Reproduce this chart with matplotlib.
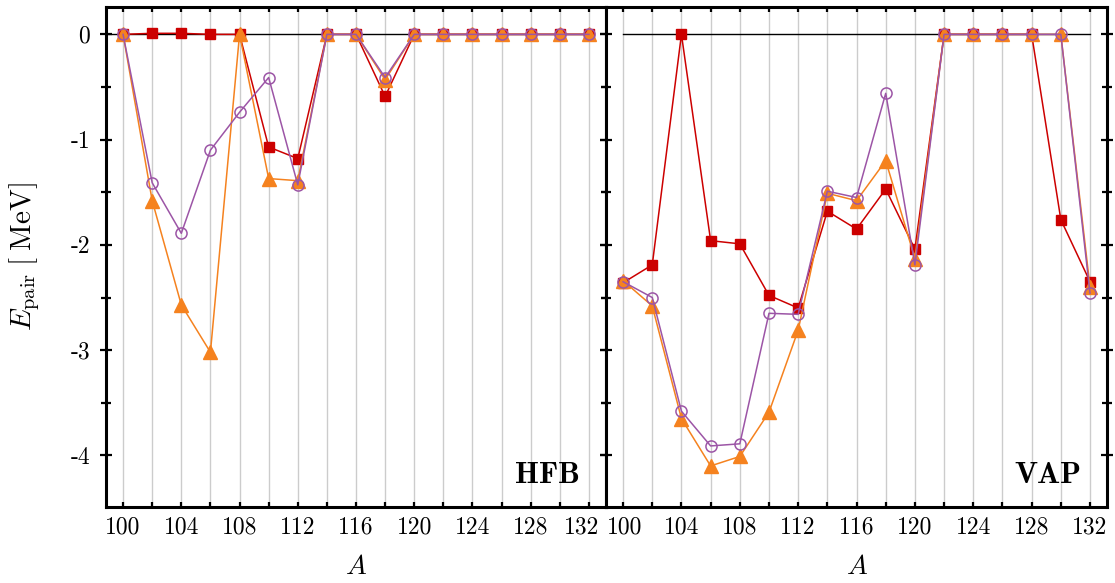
import matplotlib
matplotlib.use("Agg")
import matplotlib.pyplot as plt
import matplotlib.transforms as mtransforms
from matplotlib.ticker import MultipleLocator, FixedLocator, FuncFormatter

plt.rcParams["font.family"] = ["cmr10", "DejaVu Serif"]
plt.rcParams["mathtext.fontset"] = "cm"
plt.rcParams["axes.unicode_minus"] = False

# Mass numbers
A = [100, 102, 104, 106, 108, 110, 112, 114, 116, 118, 120, 122, 124, 126, 128, 130, 132]

# Pairing energies [MeV], HFB
hfb_red = [0, 0.01, 0.01, 0.0, 0, -1.07, -1.18, 0, 0, -0.59, 0, 0, 0, 0, 0, 0, 0]
hfb_orange = [0, -1.58, -2.57, -3.02, 0, -1.37, -1.39, 0, 0, -0.43, 0, 0, 0, 0, 0, 0, 0]
hfb_purple = [0, -1.41, -1.89, -1.10, -0.74, -0.41, -1.43, 0, 0, -0.41, 0, 0, 0, 0, 0, 0, 0]

# Pairing energies [MeV], VAP
vap_red = [-2.36, -2.19, 0, -1.96, -1.99, -2.48, -2.60, -1.68, -1.85, -1.47, -2.04,
           0, 0, 0, 0, -1.76, -2.35]
vap_orange = [-2.34, -2.58, -3.65, -4.10, -4.01, -3.59, -2.81, -1.51, -1.58, -1.20, -2.13,
              0, 0, 0, 0, 0, -2.40]
vap_purple = [-2.35, -2.50, -3.58, -3.91, -3.89, -2.65, -2.66, -1.49, -1.55, -0.56, -2.19,
              0, 0, 0, 0, 0, -2.46]

panel_names = ["HFB", "VAP"]
xtick_labels = [100, 104, 108, 112, 116, 120, 124, 128, 132]

RED = "#cc0000"
ORANGE = "#f5821f"
PURPLE = "#9c55a6"

fig = plt.figure(figsize=(11.15, 5.83), dpi=100)
bottom, height = 0.1304, 0.8576
ax1 = fig.add_axes([0.0951, bottom, 0.4484, height])
ax2 = fig.add_axes([0.5435, bottom, 0.4494, height])

datasets = [(hfb_red, hfb_orange, hfb_purple), (vap_red, vap_orange, vap_purple)]

for i, (ax, (red, orange, purple), name) in enumerate(zip([ax1, ax2], datasets, panel_names)):
    ax.set_xlim(98.83, 133.17)
    ax.set_ylim(-4.49, 0.26)

    for a in A:
        ax.axvline(a, color="#cccccc", lw=1.0, zorder=0)
    x0 = ax.get_xlim()[0] if i == 0 else A[0]
    ax.plot([x0, A[-1]], [0, 0], color="black", lw=1.0, zorder=1)

    ax.plot(A, red, color=RED, lw=1.1, marker="s", ms=7.2, mfc=RED, mec=RED, zorder=3)
    ax.plot(A, orange, color=ORANGE, lw=1.1, marker="^", ms=9.5, mfc=ORANGE, mec=ORANGE,
            zorder=4)
    ax.plot(A, purple, color=PURPLE, lw=1.1, marker="o", ms=8, mfc="none", mec=PURPLE,
            mew=1.1, zorder=5)

    for s in ax.spines.values():
        s.set_linewidth(2.2)

    ax.xaxis.set_major_locator(FixedLocator(xtick_labels))
    ax.xaxis.set_minor_locator(MultipleLocator(2))
    ax.yaxis.set_major_locator(MultipleLocator(1))
    ax.yaxis.set_minor_locator(MultipleLocator(0.5))
    ax.yaxis.set_major_formatter(FuncFormatter(lambda v, p: f"{v:g}"))

    ax.tick_params(axis="x", which="both", direction="in", top=True, bottom=True,
                   length=3.5, width=1.6, labelsize=17, pad=7)
    ax.tick_params(axis="y", which="major", direction="inout", left=True, right=True,
                   length=9, width=1.6, labelsize=17, pad=7)
    ax.tick_params(axis="y", which="minor", direction="inout", left=True, right=True,
                   length=6.5, width=1.6)
    if i == 1:
        ax.tick_params(axis="y", which="both", labelleft=False)

    ax.text(0.948, 0.048, name, transform=ax.transAxes, family=["cmb10", "DejaVu Serif"],
            ha="right", va="baseline", fontsize=22)
    ax.set_xlabel(r"$A$", fontsize=20, labelpad=11)

# nudge the two tick labels that meet at the panel boundary apart
fig.canvas.draw()
last_left = ax1.xaxis.get_major_ticks()[-1].label1
last_left.set_transform(last_left.get_transform()
                        + mtransforms.ScaledTranslation(-7 / 100, 0, fig.dpi_scale_trans))
first_right = ax2.xaxis.get_major_ticks()[0].label1
first_right.set_transform(first_right.get_transform()
                          + mtransforms.ScaledTranslation(2 / 100, 0, fig.dpi_scale_trans))

ax1.set_ylabel(r"$E_{\mathrm{pair}}\;[\;\mathrm{MeV}]$", fontsize=21)
ax1.yaxis.set_label_coords(-0.128, 0.5)

fig.savefig("out.png", dpi=100)
